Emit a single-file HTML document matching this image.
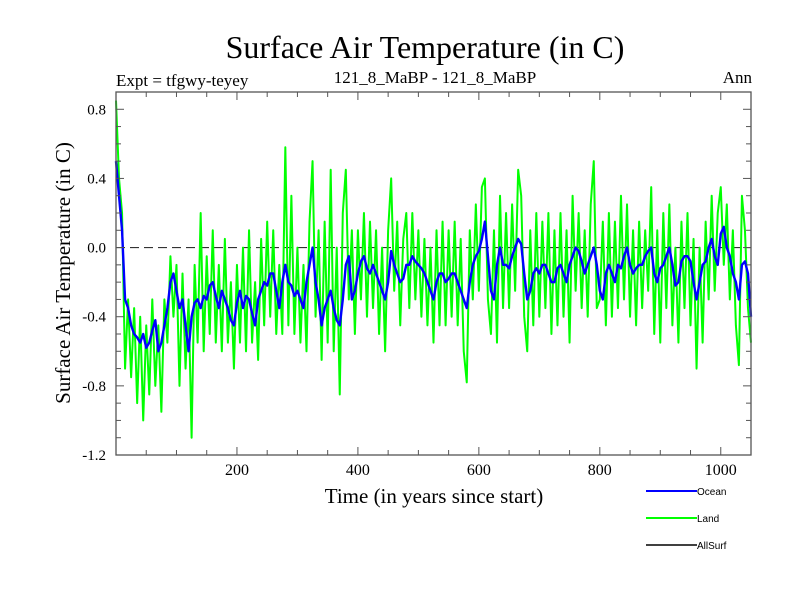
<!DOCTYPE html>
<html><head><meta charset="utf-8"><style>
body{margin:0;background:#fff;}
svg{display:block;font-family:"Liberation Serif",serif;}
</style></head><body>
<svg id="chart" width="800" height="600" viewBox="0 0 800 600" xmlns="http://www.w3.org/2000/svg">
<rect x="0" y="0" width="800" height="600" fill="#fff"/>
<text x="425" y="58" font-size="32" text-anchor="middle">Surface Air Temperature (in C)</text>
<text x="116" y="86" font-size="17">Expt = tfgwy-teyey</text>
<text x="435" y="83" font-size="17" text-anchor="middle">121_8_MaBP - 121_8_MaBP</text>
<text x="752" y="83" font-size="17" text-anchor="end">Ann</text>
<text x="434" y="503" font-size="21" text-anchor="middle">Time (in years since start)</text>
<text transform="translate(70,273) rotate(-90)" font-size="21" text-anchor="middle">Surface Air Temperature (in C)</text>
<g id="plot"></g>
<g font-family="Liberation Sans,sans-serif" font-size="10">
<line x1="646" y1="491" x2="697" y2="491" stroke="#0000ff" stroke-width="2"/>
<text x="697" y="495">Ocean</text>
<line x1="646" y1="518" x2="697" y2="518" stroke="#00ff00" stroke-width="2"/>
<text x="697" y="522">Land</text>
<line x1="646" y1="545" x2="697" y2="545" stroke="#000" stroke-width="1.5"/>
<text x="697" y="549">AllSurf</text>
</g>
</svg>
<script>
const yearStep = 5;
const xTickValues = [200, 400, 600, 800, 1000];
const yTickValues = [0.8, 0.4, 0.0, -0.4, -0.8, -1.2];
const yTickLabels = ["0.8", "0.4", "0.0", "-0.4", "-0.8", "-1.2"];
const oceanValues = [0.5,0.3,0.1,-0.3,-0.35,-0.45,-0.5,-0.52,-0.55,-0.5,-0.58,-0.55,-0.48,-0.42,-0.6,-0.55,-0.45,-0.35,-0.2,-0.15,-0.25,-0.35,-0.3,-0.45,-0.6,-0.4,-0.32,-0.3,-0.35,-0.28,-0.3,-0.22,-0.2,-0.28,-0.35,-0.25,-0.3,-0.35,-0.42,-0.45,-0.32,-0.25,-0.35,-0.28,-0.3,-0.38,-0.45,-0.3,-0.25,-0.2,-0.22,-0.15,-0.15,-0.25,-0.35,-0.2,-0.1,-0.2,-0.22,-0.28,-0.25,-0.3,-0.35,-0.2,-0.1,0.0,-0.2,-0.3,-0.45,-0.35,-0.3,-0.25,-0.35,-0.42,-0.45,-0.3,-0.1,-0.05,-0.3,-0.25,-0.15,-0.08,-0.05,-0.12,-0.15,-0.1,-0.15,-0.2,-0.25,-0.3,-0.2,-0.02,-0.1,-0.15,-0.2,-0.18,-0.1,-0.1,-0.05,-0.08,-0.1,-0.12,-0.15,-0.2,-0.25,-0.3,-0.2,-0.15,-0.15,-0.2,-0.18,-0.15,-0.15,-0.2,-0.25,-0.3,-0.35,-0.2,-0.1,-0.05,-0.02,0.05,0.15,-0.05,-0.25,-0.3,-0.1,0.0,-0.1,-0.1,-0.12,-0.05,0.0,0.05,0.02,-0.15,-0.3,-0.25,-0.15,-0.12,-0.15,-0.1,-0.1,-0.15,-0.2,-0.2,-0.12,-0.1,-0.15,-0.2,-0.1,-0.05,0.0,-0.02,-0.08,-0.15,-0.1,-0.05,0.0,-0.1,-0.25,-0.3,-0.15,-0.1,-0.15,-0.2,-0.1,-0.12,-0.05,0.0,-0.1,-0.15,-0.12,-0.1,-0.1,-0.05,-0.02,0.0,-0.15,-0.2,-0.12,-0.1,-0.05,0.0,-0.1,-0.22,-0.2,-0.08,-0.05,-0.05,-0.08,-0.2,-0.3,-0.2,-0.1,-0.08,0.0,0.05,-0.05,-0.1,0.08,0.12,0.0,-0.05,-0.15,-0.2,-0.3,-0.1,-0.08,-0.15,-0.4];
const landValues = [0.85,0.4,0.2,-0.7,-0.3,-0.75,-0.35,-0.9,-0.4,-1.0,-0.45,-0.85,-0.3,-0.8,-0.45,-0.95,-0.3,-0.55,-0.05,-0.4,-0.1,-0.8,-0.15,-0.7,-0.3,-1.1,-0.1,-0.55,0.2,-0.6,-0.05,-0.5,0.1,-0.55,-0.1,-0.6,0.05,-0.55,-0.2,-0.7,-0.1,-0.55,0.0,-0.6,0.1,-0.55,-0.2,-0.65,0.05,-0.45,0.15,-0.4,0.1,-0.5,-0.1,-0.5,0.58,-0.45,0.3,-0.5,0.0,-0.55,-0.1,-0.6,0.15,0.5,-0.4,0.1,-0.65,0.15,-0.55,0.45,-0.6,0.0,-0.85,0.2,0.45,-0.3,0.1,-0.5,0.1,-0.3,0.2,-0.4,0.15,-0.35,0.1,-0.5,0.0,-0.6,0.1,0.4,-0.25,0.15,-0.45,0.05,0.2,-0.35,0.2,-0.3,0.1,-0.4,0.05,-0.45,0.0,-0.55,0.1,-0.45,0.15,-0.45,0.1,-0.4,0.15,-0.45,0.05,-0.6,-0.78,0.1,-0.3,0.25,-0.25,0.35,0.4,-0.3,-0.5,0.1,-0.55,0.3,-0.35,0.2,-0.35,0.25,-0.25,0.45,0.3,-0.4,-0.6,0.1,-0.45,0.2,-0.4,0.15,-0.35,0.2,-0.5,0.1,-0.45,0.2,-0.4,0.1,-0.55,0.3,-0.25,0.2,-0.35,0.1,-0.4,0.25,0.5,-0.35,-0.3,0.15,-0.45,0.2,-0.4,0.15,-0.35,0.3,-0.3,0.25,-0.4,0.1,-0.45,0.15,-0.35,0.1,-0.25,0.35,-0.5,0.1,-0.55,0.2,-0.35,0.25,-0.45,0.0,-0.55,0.15,-0.35,0.2,-0.45,0.05,-0.7,0.0,-0.55,0.15,-0.3,0.3,-0.25,0.2,0.35,-0.1,0.25,-0.3,0.1,-0.45,-0.68,0.3,0.1,-0.35,-0.55];

const L = 116, R = 751, T = 92, B = 455;
const xMin = 0, xMax = 1050, yMin = -1.2, yMax = 0.9;
function xScale(v){ return L + (v - xMin) / (xMax - xMin) * (R - L); }
function yScale(v){ return B - (v - yMin) / (yMax - yMin) * (B - T); }
const NS = "http://www.w3.org/2000/svg";
const plot = document.getElementById('plot');
function mk(tag, attrs){ const e = document.createElementNS(NS, tag); for (const k in attrs) e.setAttribute(k, attrs[k]); plot.appendChild(e); return e; }

const zl = mk('line', {x1:L, x2:R, y1:yScale(0), y2:yScale(0), stroke:'#333', 'stroke-width':1.2, 'stroke-dasharray':'9,5'});



function seriesPath(vals){ return vals.map((v,i)=>(i?'L':'M')+xScale(i*yearStep).toFixed(2)+','+yScale(v).toFixed(2)).join(''); }
const land = mk('path', {d:seriesPath(landValues), fill:'none', stroke:'#00ff00', 'stroke-width':2, 'stroke-linejoin':'round'});


const ocean = mk('path', {d:seriesPath(oceanValues), fill:'none', stroke:'#0000ff', 'stroke-width':2.4, 'stroke-linejoin':'round'});



const fr = mk('rect', {x:L, y:T, width:R-L, height:B-T, fill:'none', stroke:'#555', 'stroke-width':1.3});



for (let v = 50; v < xMax; v += 50) {
  const major = v % 200 === 0;
  const len = major ? 8 : 5;
  const t1 = mk('line', {x1:xScale(v), x2:xScale(v), y1:B, y2:B-len, stroke:'#555', 'stroke-width':1});
  
  
  const t2 = mk('line', {x1:xScale(v), x2:xScale(v), y1:T, y2:T+len, stroke:'#555', 'stroke-width':1});
  
  
}
xTickValues.forEach(v => {
  const t = mk('text', {x:xScale(v), y:B+20, 'font-size':16, 'text-anchor':'middle'});
  t.textContent = v;
  
  
});
for (let k = -11; k <= 8; k++) {
  const v = k / 10;
  const major = k % 4 === 0;
  const len = major ? 8 : 5;
  const t1 = mk('line', {x1:L, x2:L+len, y1:yScale(v), y2:yScale(v), stroke:'#555', 'stroke-width':1});
  
  
  const t2 = mk('line', {x1:R, x2:R-len, y1:yScale(v), y2:yScale(v), stroke:'#555', 'stroke-width':1});
  
  
}
yTickValues.forEach((v,i) => {
  const t = mk('text', {x:L-10, y:yScale(v)+5, 'font-size':15, 'text-anchor':'end'});
  t.textContent = yTickLabels[i];
  
  
});
</script>
</body></html>
